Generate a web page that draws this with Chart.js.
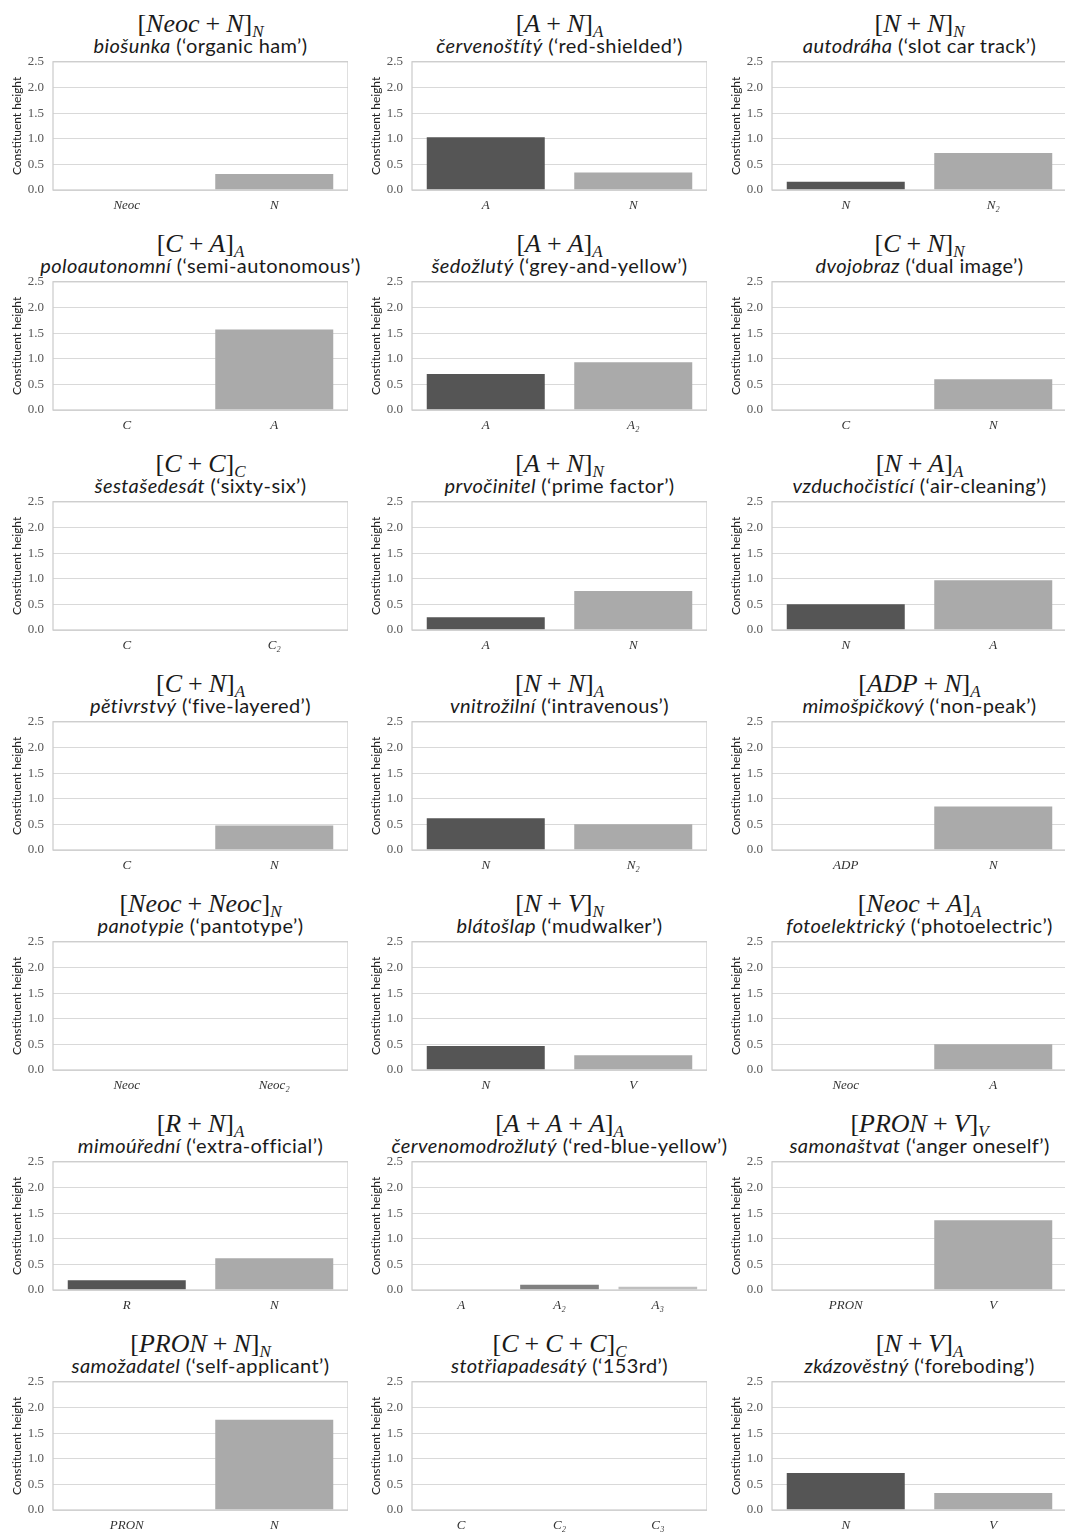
<!DOCTYPE html>
<html><head><meta charset="utf-8">
<script src="https://cdn.jsdelivr.net/npm/chart.js@4.4.1/dist/chart.umd.min.js"></script>
<style>
html,body{margin:0;padding:0;background:#fff}
body{width:1065px;height:1532px;overflow:hidden;position:relative}
canvas{position:absolute}
.math{position:absolute;font-family:'Liberation Serif',serif;font-size:26px;line-height:26px;white-space:nowrap;transform:translateX(-50%);color:#1a1a1a}
.math .op{display:inline-block;margin:0 6px}
.math sub{font-size:17px;vertical-align:baseline;position:relative;top:5px}
.sub{position:absolute;font-family:Lato,sans-serif;font-size:20px;line-height:24px;letter-spacing:0.4px;white-space:nowrap;transform:translateX(-50%);color:#1a1a1a}
</style></head>
<body>
<script>
// ---- data ----
const formulaParts = [
  ['Neoc','N'], ['A','N'], ['N','N'],
  ['C','A'], ['A','A'], ['C','N'],
  ['C','C'], ['A','N'], ['N','A'],
  ['C','N'], ['N','N'], ['ADP','N'],
  ['Neoc','Neoc'], ['N','V'], ['Neoc','A'],
  ['R','N'], ['A','A','A'], ['PRON','V'],
  ['PRON','N'], ['C','C','C'], ['N','V']
];
const formulaHeads = ['N','A','N','A','A','N','C','N','A','A','A','A','N','N','A','A','A','V','N','C','A'];
const words = ['biošunka','červenoštítý','autodráha','poloautonomní','šedožlutý','dvojobraz','šestašedesát','prvočinitel','vzduchočistící','pětivrstvý','vnitrožilní','mimošpičkový','panotypie','blátošlap','fotoelektrický','mimoúřední','červenomodrožlutý','samonaštvat','samožadatel','stotřiapadesátý','zkázověstný'];
const glosses = ['organic ham','red-shielded','slot car track','semi-autonomous','grey-and-yellow','dual image','sixty-six','prime factor','air-cleaning','five-layered','intravenous','non-peak','pantotype','mudwalker','photoelectric','extra-official','red-blue-yellow','anger oneself','self-applicant','153rd','foreboding'];
const categories = [
  ['Neoc','N'], ['A','N'], ['N','N₂'],
  ['C','A'], ['A','A₂'], ['C','N'],
  ['C','C₂'], ['A','N'], ['N','A'],
  ['C','N'], ['N','N₂'], ['ADP','N'],
  ['Neoc','Neoc₂'], ['N','V'], ['Neoc','A'],
  ['R','N'], ['A','A₂','A₃'], ['PRON','V'],
  ['PRON','N'], ['C','C₂','C₃'], ['N','V']
];
const heights = [
  [0, 0.31], [1.03, 0.34], [0.16, 0.72],
  [0, 1.57], [0.70, 0.93], [0, 0.60],
  [0, 0], [0.25, 0.76], [0.50, 0.97],
  [0, 0.48], [0.62, 0.50], [0, 0.85],
  [0, 0], [0.47, 0.29], [0, 0.50],
  [0.19, 0.62], [0, 0.10, 0.065], [0, 1.36],
  [0, 1.76], [0, 0, 0], [0.72, 0.33]
];
const yTicks = [0, 0.5, 1.0, 1.5, 2.0, 2.5];
const yLabel = 'Constituent height';

// ---- styling / layout ----
const palettes = {2: ['#555555', '#aaaaaa'], 3: ['#404040', '#808080', '#bfbfbf']};
const plotLefts = [53, 412, 772];
const plotW = 295, axisW = 53, rowH = 220;

const frame = {id:'frame', afterDatasetsDraw(c){
  const a = c.chartArea, ctx = c.ctx;
  ctx.save(); ctx.strokeStyle = '#cccccc'; ctx.lineWidth = 1.25;
  ctx.strokeRect(a.left, a.top, a.right - a.left, a.bottom - a.top);
  ctx.restore();
}};

function mathHTML(parts, head){
  return '[' + parts.map(p => '<i>' + p + '</i>').join('<span class="op">+</span>') + ']<sub><i>' + head + '</i></sub>';
}

for (let i = 0; i < words.length; i++) {
  const r = Math.floor(i / 3), col = i % 3;
  const rowTop = r * rowH;
  const cx = plotLefts[col] + plotW / 2;

  const m = document.createElement('div');
  m.className = 'math'; m.style.left = cx + 'px'; m.style.top = (rowTop + 11) + 'px';
  m.innerHTML = mathHTML(formulaParts[i], formulaHeads[i]);
  document.body.appendChild(m);

  const s = document.createElement('div');
  s.className = 'sub'; s.style.left = cx + 'px'; s.style.top = (rowTop + 33) + 'px';
  s.innerHTML = '<i>' + words[i] + '</i> (‘' + glosses[i] + '’)';
  document.body.appendChild(s);

  const cv = document.createElement('canvas');
  cv.width = axisW + plotW; cv.height = 170;
  cv.style.left = (plotLefts[col] - axisW) + 'px';
  cv.style.top = (rowTop + 45) + 'px';
  document.body.appendChild(cv);

  const n = categories[i].length;
  new Chart(cv, {
    type: 'bar',
    data: {labels: categories[i], datasets: [{data: heights[i], backgroundColor: palettes[n], barPercentage: 0.8, categoryPercentage: 1.0}]},
    options: {
      responsive: false, animation: false, devicePixelRatio: 1,
      layout: {padding: {top: 0, left: 0, right: 0, bottom: 0}},
      plugins: {legend: {display: false}, tooltip: {enabled: false}},
      scales: {
        x: {grid: {display: false, drawTicks: false}, border: {display: false},
            ticks: {padding: 8, color: '#333', font: {family: 'Liberation Serif', style: 'italic', size: 13}},
            afterFit: sc => { sc.height = 25; }},
        y: {min: yTicks[0], max: yTicks[yTicks.length - 1],
            afterBuildTicks: sc => { sc.ticks = yTicks.map(v => ({value: v})); },
            ticks: {padding: 9, color: '#555', callback: v => Number(v).toFixed(1), font: {family: 'Liberation Serif', size: 13}},
            grid: {color: '#d9d9d9', lineWidth: 1, drawTicks: false}, border: {display: false},
            title: {display: true, text: yLabel, color: '#222', font: {family: 'Lato', size: 12}, padding: {top: 10, bottom: 0}},
            afterFit: sc => { sc.width = axisW; }}
      }
    },
    plugins: [frame]
  });
}
</script>
</body></html>
